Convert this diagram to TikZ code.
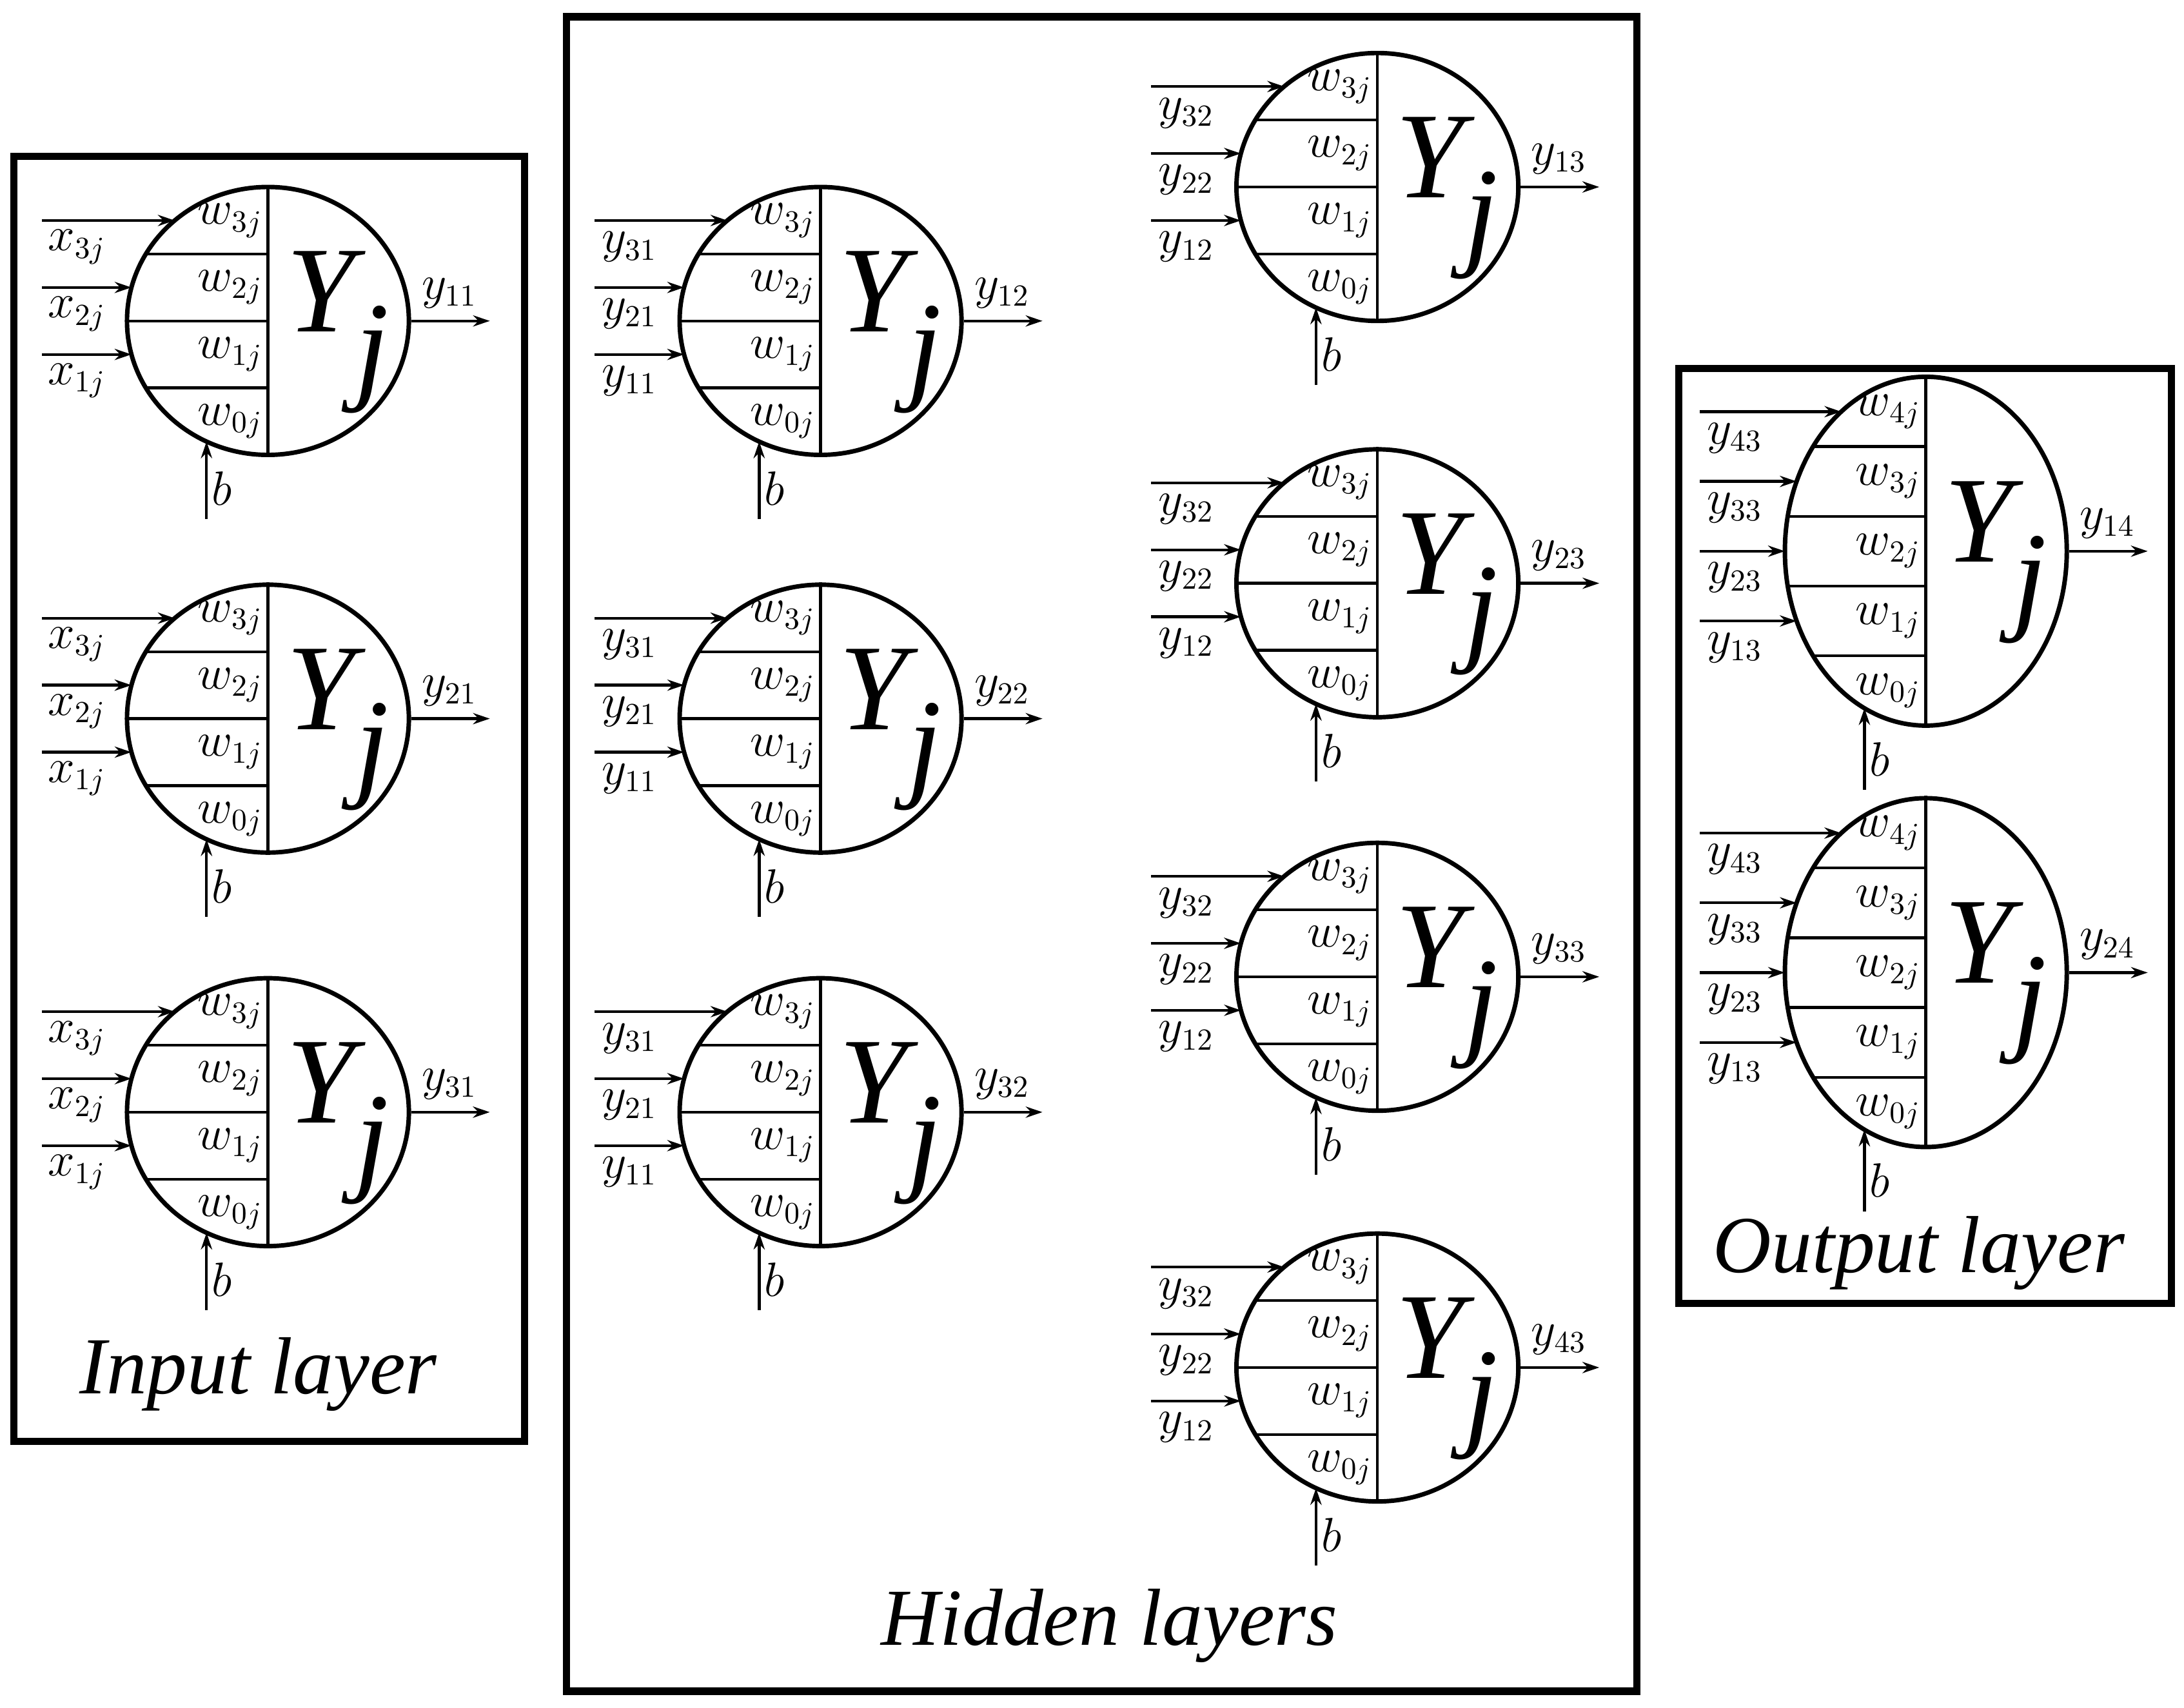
\documentclass[tikz,border=0pt]{standalone}
\usepackage{fontspec}
\setmainfont{Liberation Serif}
\usetikzlibrary{shapes.geometric,arrows.meta}
\tikzset{
  neur/.style={draw,ellipse,line width=1.6pt,minimum width=101pt,inner sep=0pt},
  div/.style={line width=1pt},
  sig/.style={line width=1pt,-{Stealth[length=6pt,width=4pt]}},
  lab/.style={font=\fontsize{16}{17}\selectfont,inner sep=0pt},
  big/.style={font=\fontsize{44}{44}\selectfont\itshape,inner sep=0pt},
  layer/.style={draw,line width=2.6pt},
  title/.style={font=\fontsize{29}{30}\selectfont\itshape,inner sep=0pt}
}
% #1 name, #2 cx, #3 cy, #4 ry, #5 rows, #6 input labels, #7 output label
\newcommand\neuron[7]{%
  \node[neur,minimum height=#4pt] (#1) at (#2,#3) {};
  \draw[div] (#1.north) -- (#1.south);
  \pgfmathtruncatemacro\nm{#5-1}
  \foreach \k in {1,...,\nm}{%
    \pgfmathsetmacro\yk{#3-#4+\k*2*#4/#5}
    \pgfmathsetmacro\xl{#2-101*sqrt(1-((\yk-#3)/#4)^2)}
    \draw[div] (\xl,\yk) -- (#2,\yk);
  }
  \foreach \k in {1,...,#5}{%
    \pgfmathsetmacro\yc{#3-#4+(\k-0.5)*2*#4/#5}
    \pgfmathtruncatemacro\wi{#5-\k}
    \node[lab] at (#2-27,\yc) {$w_{\wi j}$};
  }
  \foreach \lab [count=\k] in {#6}{%
    \pgfmathsetmacro\yc{#3-#4+(\k-0.5)*2*#4/#5}
    \pgfmathsetmacro\xl{#2-101*sqrt(1-((\yc-#3)/#4)^2)}
    \coordinate (#1-in\k) at (#2-162,\yc);
    \coordinate (#1-e\k) at (\xl,\yc);
    \draw[sig] (#1-in\k) -- (#1-e\k);
    \node[lab] at (#2-137,\yc+19) {$\lab$};
  }
  \coordinate (#1-out) at (#2+159,#3);
  \draw[sig] (#1.east) -- (#1-out);
  \node[lab] at (#2+130,#3-20) {$#7$};
  \coordinate (#1-b) at (#2-44,#3+#4+46);
  \coordinate (#1-be) at (#2-44,#3+0.9*#4);
  \draw[sig] (#1-b) -- (#1-be);
  \node[lab] at (#2-33,#3+#4+24) {$b$};
  \node[big] at (#2+50,#3+8) {Y\raisebox{-0.45em}{j}};
}
\begin{document}
\begin{tikzpicture}[x=0.5pt,y=-0.5pt]
\useasboundingbox (0,0) rectangle (1565,1224);
\node[layer,minimum width=183pt,minimum height=460.5pt] (inbox) at (193,572.5) {};
\node[layer,minimum width=383.5pt,minimum height=600pt] (hidbox) at (789.5,612) {};
\node[layer,minimum width=176.5pt,minimum height=335pt] (outbox) at (1379.5,599) {};
\node[title] (tin) at (185,985) {Input layer};
\node[title] (thid) at (795,1165) {Hidden layers};
\node[title] (tout) at (1375,898) {Output layer};

\neuron{i1}{192}{230}{96}{4}{x_{3j},x_{2j},x_{1j}}{y_{11}}
\neuron{i2}{192}{515}{96}{4}{x_{3j},x_{2j},x_{1j}}{y_{21}}
\neuron{i3}{192}{797}{96}{4}{x_{3j},x_{2j},x_{1j}}{y_{31}}

\neuron{h1}{588}{230}{96}{4}{y_{31},y_{21},y_{11}}{y_{12}}
\neuron{h2}{588}{515}{96}{4}{y_{31},y_{21},y_{11}}{y_{22}}
\neuron{h3}{588}{797}{96}{4}{y_{31},y_{21},y_{11}}{y_{32}}

\neuron{g1}{987}{134}{96}{4}{y_{32},y_{22},y_{12}}{y_{13}}
\neuron{g2}{987}{418}{96}{4}{y_{32},y_{22},y_{12}}{y_{23}}
\neuron{g3}{987}{700}{96}{4}{y_{32},y_{22},y_{12}}{y_{33}}
\neuron{g4}{987}{980}{96}{4}{y_{32},y_{22},y_{12}}{y_{43}}

\neuron{o1}{1380}{395}{125}{5}{y_{43},y_{33},y_{23},y_{13}}{y_{14}}
\neuron{o2}{1380}{697}{125}{5}{y_{43},y_{33},y_{23},y_{13}}{y_{24}}
\end{tikzpicture}
\end{document}
